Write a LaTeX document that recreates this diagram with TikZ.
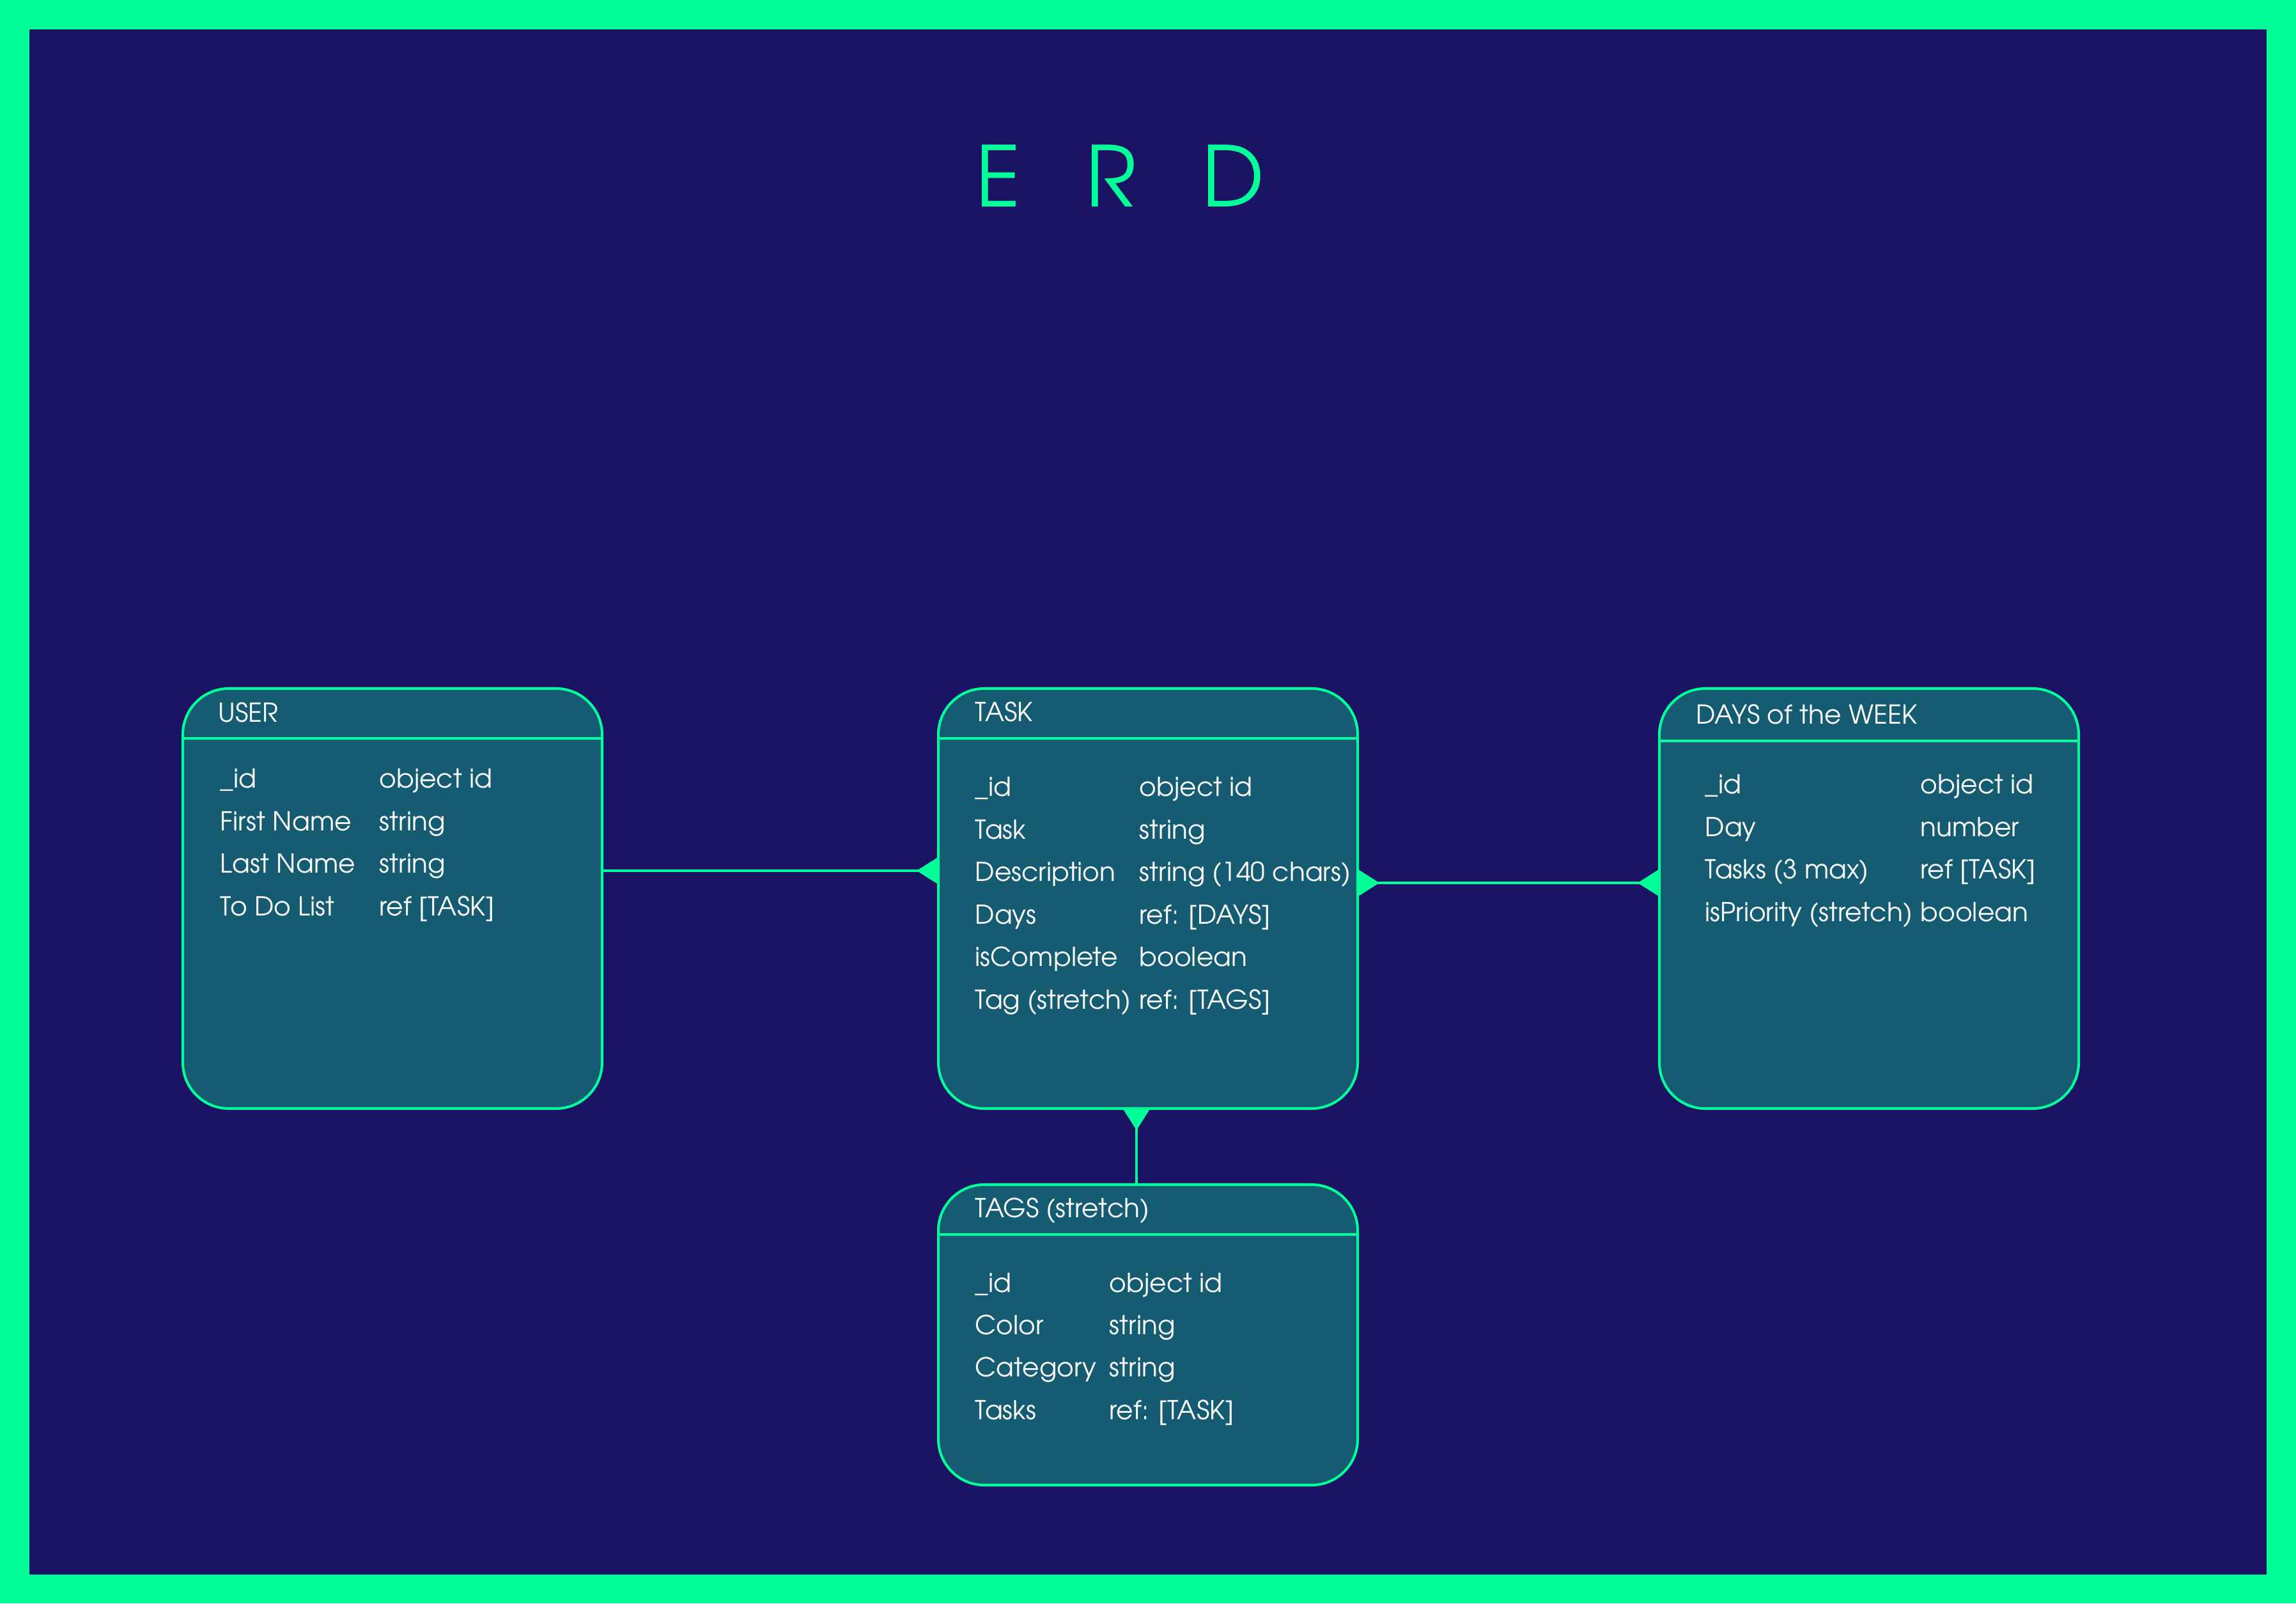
\documentclass[tikz,border=0pt]{standalone}
\usepackage{fontspec}
\setmainfont{texgyreadventor-regular.otf}
\usetikzlibrary{positioning, arrows.meta, calc}
\definecolor{erdgreen}{RGB}{0, 255, 153}
\definecolor{erdnavy}{RGB}{27, 20, 100}
\definecolor{erdteal}{RGB}{21, 92, 115}

\begin{document}
\begin{tikzpicture}[
    >=Stealth,
    font=\fontsize{11.6}{18.9}\selectfont,
    entity/.style={
        rectangle, rounded corners=0.72cm,
        draw=erdgreen, fill=erdteal,
        line width=1.15pt, inner sep=0pt, outer sep=0pt,
        minimum width=6.56cm, minimum height=6.57cm,
    },
    divider/.style={draw=erdgreen, line width=1.15pt},
    enttitle/.style={text=white, anchor=base west, inner sep=0pt},
    fields/.style={text=white, anchor=base west, inner sep=0pt},
    erdtitle/.style={
        text=erdgreen, anchor=base, inner sep=0pt,
        font=\fontsize{37.3}{40}\selectfont,
    },
    rel/.style={
        -{Triangle[reversed, length=0.34cm, width=0.42cm]},
        line width=1.15pt, draw=erdgreen,
    },
    relboth/.style={
        {Triangle[reversed, length=0.34cm, width=0.42cm]}-{Triangle[reversed, length=0.34cm, width=0.42cm]},
        line width=1.15pt, draw=erdgreen,
    },
]

% =================================================
% Canvas and frame
% =================================================
\fill[erdgreen] (0,0) rectangle (35.92,25.08);
\fill[erdnavy] (0.46,0.45) rectangle (35.46,24.62);

\node[erdtitle] (title) at (17.52,21.84) {E\hspace{1.02cm}R\hspace{1.02cm}D};

% =================================================
% Entities
% =================================================
\node[entity] (task) at (17.96,11.025) {};
\node[entity, left=5.26cm of task] (user) {};
\node[entity, right=4.72cm of task] (days) {};
\node[entity, minimum height=4.70cm, below=1.19cm of task] (tags) {};

\draw[divider] ([yshift=-0.78cm]user.north west) -- ([yshift=-0.78cm]user.north east);
\draw[divider] ([yshift=-0.78cm]task.north west) -- ([yshift=-0.78cm]task.north east);
\draw[divider] ([yshift=-0.82cm]days.north west) -- ([yshift=-0.82cm]days.north east);
\draw[divider] ([yshift=-0.78cm]tags.north west) -- ([yshift=-0.78cm]tags.north east);

% =================================================
% Entity titles
% =================================================
\node[enttitle] (usertitle) at ([xshift=0.55cm, yshift=-0.53cm]user.north west) {USER};
\node[enttitle] (tasktitle) at ([xshift=0.57cm, yshift=-0.52cm]task.north west) {TASK};
\node[enttitle] (daystitle) at ([xshift=0.57cm, yshift=-0.56cm]days.north west) {DAYS of the WEEK};
\node[enttitle] (tagstitle) at ([xshift=0.57cm, yshift=-0.51cm]tags.north west) {TAGS (stretch)};

% =================================================
% Entity fields
% =================================================
\node[fields] (userfields) at ([xshift=0.58cm, yshift=-1.56cm]user.north west) {%
    \begin{tabular}[t]{@{}p{2.49cm}@{}l@{}}
    \_id       & object id\\
    First Name & string\\
    Last Name  & string\\
    To Do List & ref [TASK]
    \end{tabular}%
};

\node[fields] (taskfields) at ([xshift=0.57cm, yshift=-1.69cm]task.north west) {%
    \begin{tabular}[t]{@{}p{2.57cm}@{}l@{}}
    \_id          & object id\\
    Task          & string\\
    Description   & string (140 chars)\\
    Days          & ref: [DAYS]\\
    isComplete    & boolean\\
    Tag (stretch) & ref: [TAGS]
    \end{tabular}%
};

\node[fields] (daysfields) at ([xshift=0.71cm, yshift=-1.65cm]days.north west) {%
    \begin{tabular}[t]{@{}p{3.37cm}@{}l@{}}
    \_id                 & object id\\
    Day                  & number\\
    Tasks (3 max)        & ref [TASK]\\
    isPriority (stretch) & boolean
    \end{tabular}%
};

\node[fields] (tagsfields) at ([xshift=0.57cm, yshift=-1.68cm]tags.north west) {%
    \begin{tabular}[t]{@{}p{2.10cm}@{}l@{}}
    \_id     & object id\\
    Color    & string\\
    Category & string\\
    Tasks    & ref: [TASK]
    \end{tabular}%
};

% =================================================
% Relations
% =================================================
\draw[rel]     ([yshift=0.435cm]user.east)  -- ([yshift=0.435cm]task.west);
\draw[relboth] ([yshift=0.245cm]task.east)  -- ([yshift=0.245cm]days.west);
\draw[rel]     ([xshift=-0.18cm]tags.north) -- ([xshift=-0.18cm]task.south);

\end{tikzpicture}
\end{document}
